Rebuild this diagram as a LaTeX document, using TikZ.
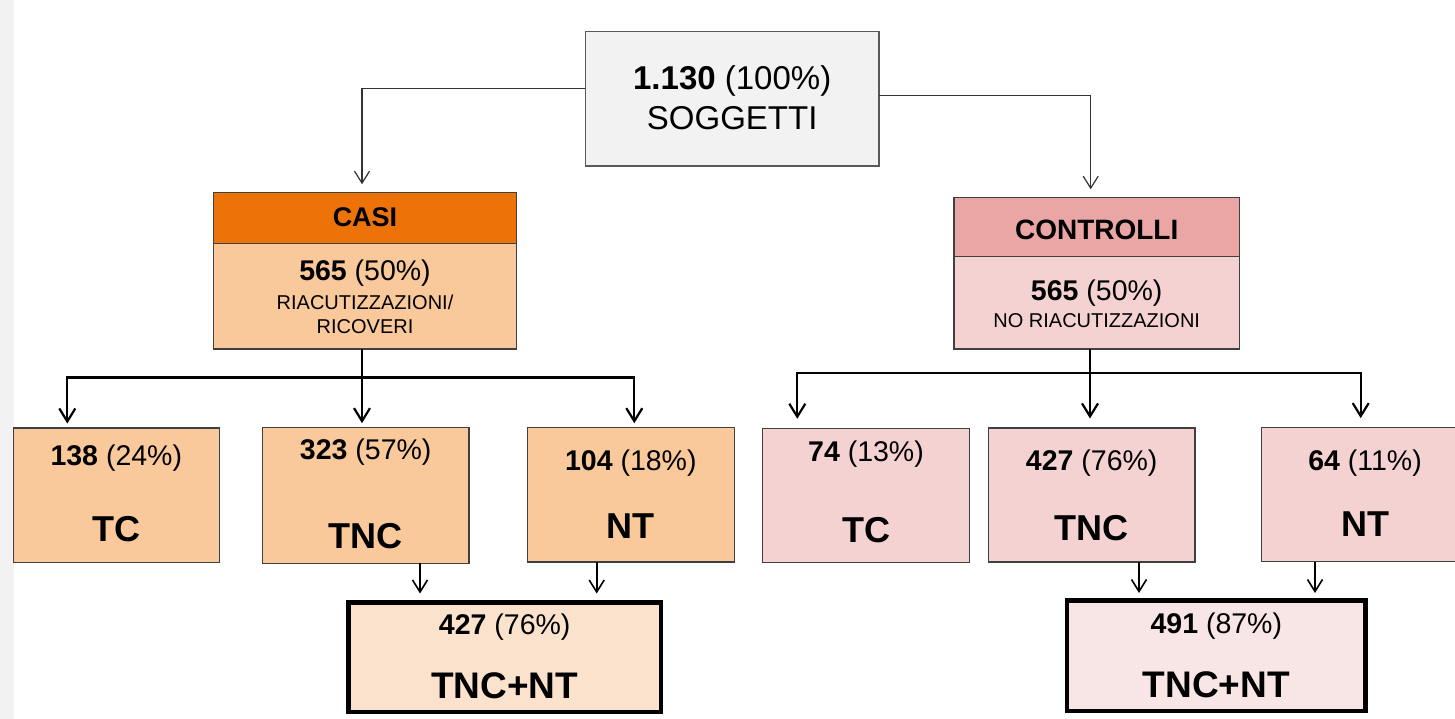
\documentclass[tikz,border=0pt]{standalone}
\usepackage{fontspec}
\setmainfont{Liberation Sans}
\usetikzlibrary{arrows.meta,calc}
\definecolor{striprgb}{RGB}{242,242,242}
\definecolor{topfill}{RGB}{242,242,242}
\definecolor{orhead}{RGB}{237,115,8}
\definecolor{orbody}{RGB}{249,200,155}
\definecolor{orlight}{RGB}{251,226,204}
\definecolor{pkhead}{RGB}{234,165,165}
\definecolor{pkbody}{RGB}{244,210,210}
\definecolor{pklight}{RGB}{248,229,229}
\newcommand\myfs[1]{\fontsize{#1}{#1}\selectfont}
\tikzset{
  box/.style={draw=black!75, line width=1.2pt, inner sep=0pt, outer sep=0pt},
  bigbox/.style={draw=black, line width=4.5pt, inner sep=0pt},
  txt/.style={inner sep=0pt, anchor=base},
  cnt/.style={txt, font=\myfs{28.5}},
  lbl/.style={txt, font=\myfs{36}\bfseries},
  arrthin/.style={draw=black!80, line width=1.2pt, -{Straight Barb[length=12pt,width=15pt]}},
  arrthick/.style={draw=black, line width=2.2pt, line join=miter, -{Straight Barb[length=13pt,width=16pt]}},
  arrmid/.style={draw=black, line width=1.6pt, -{Straight Barb[length=12pt,width=15pt]}},
}
\begin{document}
\begin{tikzpicture}[x=1pt,y=-1pt]
\clip (0,0) rectangle (1455,719);
\fill[white] (0,0) rectangle (1455,719);
\fill[striprgb] (0,0) rectangle (14,719);

% top
\node[box, draw=black!65, line width=1.5pt, fill=topfill, minimum width=293.7pt, minimum height=134.3pt] (top) at (732.2,98.9) {};
\node[txt, font=\myfs{33}] (toptxt1) at (732.2,90) {\textbf{1.130} (100\%)};
\node[txt, font=\myfs{33}] (toptxt2) at (732.2,130) {SOGGETTI};

% CASI
\node[box, fill=orhead, minimum width=303.4pt, minimum height=51.4pt] (casihead) at (365,218) {};
\node[box, fill=orbody, minimum width=303.4pt, minimum height=105.3pt] (casibody) at (365,296.35) {};
\node[txt, font=\myfs{27}\bfseries] (casit) at (365,226.7) {CASI};
\node[cnt] (casin) at (365,280.7) {\textbf{565} (50\%)};
\node[txt, font=\myfs{20}] (casid1) at (365,309.3) {RIACUTIZZAZIONI/};
\node[txt, font=\myfs{20}] (casid2) at (365,333.3) {RICOVERI};

% CONTROLLI
\node[box, fill=pkhead, minimum width=285.3pt, minimum height=59.4pt] (contrhead) at (1096.7,227) {};
\node[box, fill=pkbody, minimum width=285.3pt, minimum height=92.3pt] (contrbody) at (1096.7,302.85) {};
\node[txt, font=\myfs{28}\bfseries] (contrt) at (1096.7,239.3) {CONTROLLI};
\node[cnt] (contrn) at (1096.7,300.7) {\textbf{565} (50\%)};
\node[txt, font=\myfs{20}] (contrd) at (1096.7,327.3) {NO RIACUTIZZAZIONI};

% level 3 left
\node[box, fill=orbody, minimum width=206pt, minimum height=134.3pt] (tc1) at (116.3,495.2) {};
\node[cnt] (tc1n) at (116.3,465) {\textbf{138} (24\%)};
\node[lbl] (tc1l) at (116.3,541.7) {TC};
\node[box, fill=orbody, minimum width=206.7pt, minimum height=135.6pt] (tnc1) at (365.7,495.5) {};
\node[cnt] (tnc1n) at (365.7,459.3) {\textbf{323} (57\%)};
\node[lbl] (tnc1l) at (365.7,548.3) {TNC};
\node[box, fill=orbody, minimum width=207pt, minimum height=134.3pt] (nt1) at (630.8,494.9) {};
\node[cnt] (nt1n) at (630.8,470) {\textbf{104} (18\%)};
\node[lbl] (nt1l) at (630.8,538.3) {NT};

% level 3 right
\node[box, fill=pkbody, minimum width=206.6pt, minimum height=134pt] (tc2) at (866,495.3) {};
\node[cnt] (tc2n) at (866,461.7) {\textbf{74} (13\%)};
\node[lbl] (tc2l) at (866,542.7) {TC};
\node[box, fill=pkbody, minimum width=206.7pt, minimum height=134pt] (tnc2) at (1091.7,495) {};
\node[cnt] (tnc2n) at (1091.7,470) {\textbf{427} (76\%)};
\node[lbl] (tnc2l) at (1091.7,540) {TNC};
\node[box, fill=pkbody, minimum width=206.6pt, minimum height=134pt] (nt2) at (1365,494.7) {};
\node[cnt] (nt2n) at (1365,470) {\textbf{64} (11\%)};
\node[lbl] (nt2l) at (1365,536.7) {NT};

% bottom
\node[bigbox, fill=orlight, minimum width=312.8pt, minimum height=109.5pt] (bot1) at (504.7,657) {};
\node[cnt] (bot1n) at (504.7,634) {\textbf{427} (76\%)};
\node[txt, font=\myfs{37}\bfseries] (bot1l) at (504.7,698.3) {TNC+NT};
\node[bigbox, fill=pklight, minimum width=298.2pt, minimum height=110.5pt] (bot2) at (1216.3,655.5) {};
\node[cnt] (bot2n) at (1216.3,633.3) {\textbf{491} (87\%)};
\node[txt, font=\myfs{37}\bfseries] (bot2l) at (1216.3,697.3) {TNC+NT};

% connectors from top
\draw[arrthin, shorten >=8pt] ([yshift=10.2pt]top.west) -| ([xshift=-3pt]casihead.north);
\draw[arrthin, shorten >=8pt] ([yshift=3.2pt]top.east) -| ([xshift=-6pt]contrhead.north);

% level 2 left
\coordinate (lbar) at (362,377.5);
\draw[arrthick, shorten >=4.5pt] ([xshift=-3pt]casibody.south) -- ([xshift=-3.7pt]tnc1.north);
\draw[arrthick, shorten >=4.5pt] (lbar) -| ([xshift=-49pt]tc1.north);
\draw[arrthick, shorten >=4.5pt] (lbar) -| ([xshift=3.5pt]nt1.north);

% level 2 right
\coordinate (rbar) at (1090,372.7);
\draw[arrthick, shorten >=9.5pt] ([xshift=-6.7pt]contrbody.south) -- ([xshift=-1.7pt]tnc2.north);
\draw[arrthick, shorten >=9.5pt] (rbar) -| ([xshift=-68.7pt]tc2.north);
\draw[arrthick, shorten >=9.5pt] (rbar) -| ([xshift=-4.3pt]nt2.north);

% to bottom boxes
\draw[arrmid, shorten >=6.5pt] ([xshift=54.3pt]tnc1.south) -- ([xshift=54.3pt]tnc1.south |- bot1.north);
\draw[arrmid, shorten >=6.5pt] ([xshift=-34.1pt]nt1.south) -- ([xshift=-34.1pt]nt1.south |- bot1.north);
\draw[arrmid, shorten >=5pt] ([xshift=47.3pt]tnc2.south) -- ([xshift=47.3pt]tnc2.south |- bot2.north);
\draw[arrmid, shorten >=5pt] ([xshift=-50pt]nt2.south) -- ([xshift=-50pt]nt2.south |- bot2.north);
\end{tikzpicture}
\end{document}
